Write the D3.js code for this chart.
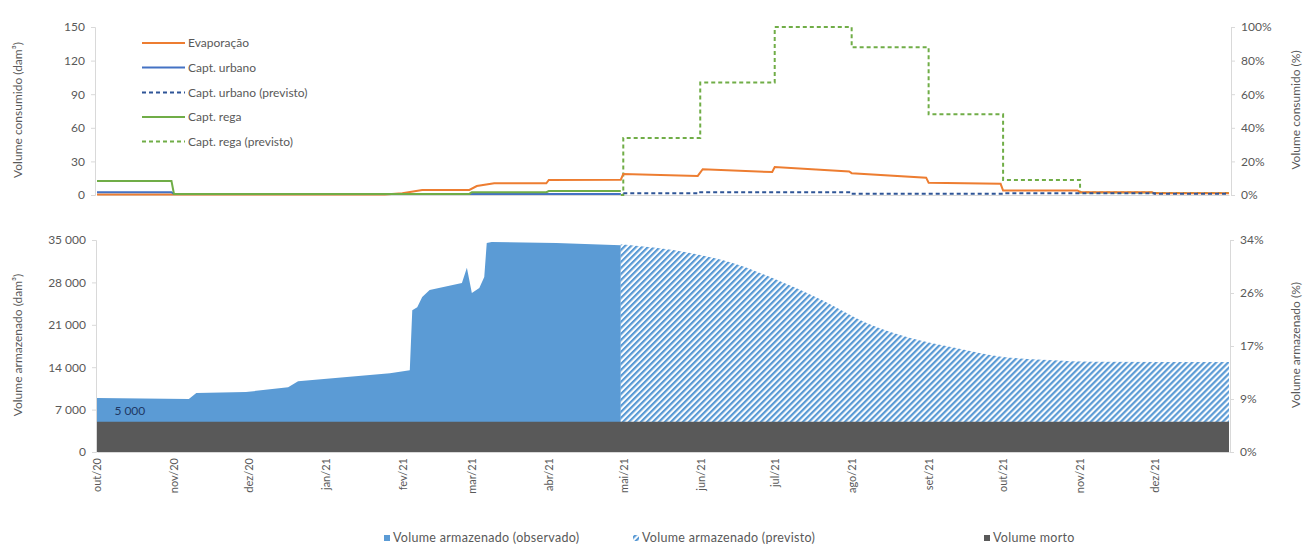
<!DOCTYPE html>
<html><head><meta charset="utf-8">
<script src="https://cdn.jsdelivr.net/npm/d3@7"></script>
<style>
body{margin:0;background:#fff;}
text{font-family:Lato,"Open Sans",sans-serif;fill:#595959;}
</style></head>
<body><svg id="c" width="1304" height="549"></svg>
<script>
// ---------- DATA ----------
const monthLabels = ["out/20","nov/20","dez/20","jan/21","fev/21","mar/21","abr/21","mai/21","jun/21","jul/21","ago/21","set/21","out/21","nov/21","dez/21"];
const monthStarts = ["2020-10-01","2020-11-01","2020-12-01","2021-01-01","2021-02-01","2021-03-01","2021-04-01","2021-05-01","2021-06-01","2021-07-01","2021-08-01","2021-09-01","2021-10-01","2021-11-01","2021-12-01"];
const topTicksLeft = [0,30,60,90,120,150];
const topTicksRight = [0,0.2,0.4,0.6,0.8,1.0];
const botTicksLeft = [0,7000,14000,21000,28000,35000];
const botTicksRight = [0,0.085,0.17,0.255,0.34];

// Volume consumido (dam³)
const evaporacao = [["2020-10-01",0.5],["2021-01-25",0.5],["2021-02-01",1.5],["2021-02-09",4.5],["2021-02-28",4.5],["2021-03-03",8],["2021-03-10",10.5],["2021-03-31",10.5],["2021-04-01",13.4],["2021-04-30",13.6],["2021-05-01",18.7],["2021-05-31",17],["2021-06-02",23],["2021-06-30",20.5],["2021-07-01",25],["2021-07-31",21],["2021-08-01",19.5],["2021-08-31",15.5],["2021-09-01",11],["2021-09-30",10],["2021-10-01",4],["2021-10-31",4],["2021-11-01",2.5],["2021-11-30",2.5],["2021-12-01",1.5],["2021-12-31",1.5]];
const captUrbano = [["2020-10-01",2.5],["2020-10-31",2.5],["2020-11-01",1],["2021-04-30",1]];
const captUrbanoPrev = [["2021-05-01",1.5],["2021-06-01",2.5],["2021-07-01",2.5],["2021-08-01",1.2],["2021-09-01",1.2],["2021-10-01",1.5],["2021-11-01",1.5],["2021-12-01",1.2],["2021-12-31",1.2]];
const captRega = [["2020-10-01",12.5],["2020-10-31",12.5],["2020-11-01",1],["2021-02-28",1],["2021-03-01",2.5],["2021-03-31",2.5],["2021-04-01",3.5],["2021-04-30",3.5]];
// Capt. rega (previsto) in % (secondary axis)
const captRegaPrev = [["2021-04-30",0],["2021-05-01",0.34],["2021-06-01",0.67],["2021-07-01",1.0],["2021-08-01",0.88],["2021-09-01",0.48],["2021-10-01",0.09],["2021-11-01",0.015],["2021-12-01",0.012],["2021-12-31",0.012]];

// Volume armazenado (dam³)
const volObservado = [["2020-10-01",8900],["2020-11-07",8750],["2020-11-10",9750],["2020-11-30",9900],["2020-12-17",10700],["2020-12-21",11700],["2021-01-27",13000],["2021-02-04",13500],["2021-02-05",23400],["2021-02-07",23900],["2021-02-09",25600],["2021-02-12",26750],["2021-02-25",27900],["2021-02-27",30400],["2021-03-01",26250],["2021-03-04",27070],["2021-03-06",28900],["2021-03-07",34500],["2021-03-09",34670],["2021-04-04",34500],["2021-04-30",34150]];
const volPrevisto = [["2021-04-30",34300],["2021-05-28",32850],["2021-06-14",31200],["2021-07-02",28400],["2021-07-20",25100],["2021-08-07",21300],["2021-08-25",18800],["2021-09-12",17170],["2021-10-01",15700],["2021-10-19",15200],["2021-11-06",14900],["2021-12-31",14860]];
const volMorto = [["2020-10-01",5000],["2021-12-31",5000]];
const mortoLabel = "5 000";

// ---------- CHART ----------
const parse = d3.timeParse("%Y-%m-%d");
const svg = d3.select("#c");
const X0 = 96, X1 = 1230;
const x = d3.scaleTime().domain([parse("2020-10-01"), parse("2021-12-31")]).range([X0+1, X1-1]);

const yT = d3.scaleLinear().domain([0,150]).range([195,27]);
const yTR = d3.scaleLinear().domain([0,1]).range([195,27]);
const yB = d3.scaleLinear().domain([0,35000]).range([452,240]);
const yBR = d3.scaleLinear().domain([0,0.34]).range([452,240]);

const defs = svg.append("defs");
const pat = defs.append("pattern").attr("id","hatch").attr("patternUnits","userSpaceOnUse")
  .attr("width",4.24).attr("height",4.24).attr("patternTransform","rotate(45)");
pat.append("rect").attr("width",4.24).attr("height",4.24).attr("fill","#fff");
pat.append("rect").attr("width",2.2).attr("height",4.24).attr("fill","#5B9BD5");

const fmtSp = v => d3.format(",")(v).replace(/,/g," ");
function styleAxis(g){
  g.selectAll("path.domain").attr("stroke","#D9D9D9");
  g.selectAll(".tick line").attr("stroke","#D9D9D9");
  g.selectAll(".tick text").attr("fill","#595959").style("font-size","12px").style("font-family","Lato, sans-serif");
}

// --- bottom panel areas ---
const toPts = arr => arr.map(d => [parse(d[0]), d[1]]);
const areaB = d3.area().x(d=>x(d[0])).y0(yB(0)).y1(d=>yB(d[1]));
svg.append("path").datum(toPts(volObservado)).attr("d",areaB).attr("fill","#5B9BD5");
svg.append("path").datum(toPts(volPrevisto)).attr("d",areaB.curve(d3.curveMonotoneX)).attr("fill","url(#hatch)");
svg.append("path").datum(toPts(volMorto)).attr("d",d3.area().x(d=>x(d[0])).y0(yB(0)).y1(d=>yB(d[1]))).attr("fill","#595959");
svg.append("text").attr("x",x(parse("2020-10-08"))).attr("y",yB(6800)).attr("dy","0.35em")
  .style("font-size","12px").style("fill","#203864").text(mortoLabel);

// bottom axes
const gBL = svg.append("g").attr("transform",`translate(${X0},0)`)
  .call(d3.axisLeft(yB).tickValues(botTicksLeft).tickSize(4).tickPadding(6).tickFormat(fmtSp));
styleAxis(gBL);
const gBR = svg.append("g").attr("transform",`translate(${X1},0)`)
  .call(d3.axisRight(yBR).tickValues(botTicksRight).tickSize(4).tickPadding(6).tickFormat(d3.format(".0%")));
styleAxis(gBR);
const gBX = svg.append("g").attr("transform",`translate(0,452)`)
  .call(d3.axisBottom(x).tickValues(monthStarts.map(parse)).tickSize(0).tickFormat((d,i)=>monthLabels[i]));
styleAxis(gBX);
gBX.selectAll(".tick text").attr("transform","rotate(-90)").attr("text-anchor","end")
  .attr("x",-6).attr("y",0).attr("dy","0.35em").style("font-size","11px");

// --- top panel ---
const gTX = svg.append("g").attr("transform",`translate(0,195)`)
  .call(d3.axisBottom(x).tickValues([]).tickSize(0));
styleAxis(gTX);
const gTL = svg.append("g").attr("transform",`translate(${X0-1},0)`)
  .call(d3.axisLeft(yT).tickValues(topTicksLeft).tickSize(4).tickPadding(6));
styleAxis(gTL);
const gTR = svg.append("g").attr("transform",`translate(${X1+1},0)`)
  .call(d3.axisRight(yTR).tickValues(topTicksRight).tickSize(4).tickPadding(6).tickFormat(d3.format(".0%")));
styleAxis(gTR);

const lineL = d3.line().x(d=>x(d[0])).y(d=>yT(d[1]));
const lineLStep = d3.line().x(d=>x(d[0])).y(d=>yT(d[1])).curve(d3.curveStepAfter);
const lineRStep = d3.line().x(d=>x(d[0])).y(d=>yTR(d[1])).curve(d3.curveStepAfter);

const series = [
  {name:"Evaporação", color:"#ED7D31", dash:null, w:2},
  {name:"Capt. urbano", color:"#4472C4", dash:null, w:2},
  {name:"Capt. urbano (previsto)", color:"#2F5597", dash:"4,3", w:2},
  {name:"Capt. rega", color:"#70AD47", dash:null, w:2},
  {name:"Capt. rega (previsto)", color:"#70AD47", dash:"4,3", w:2}
];
svg.append("path").datum(toPts(captRegaPrev)).attr("d",lineRStep).attr("fill","none")
  .attr("stroke",series[4].color).attr("stroke-width",2).attr("stroke-dasharray",series[4].dash);
svg.append("path").datum(toPts(evaporacao)).attr("d",lineL).attr("fill","none")
  .attr("stroke",series[0].color).attr("stroke-width",2);
svg.append("path").datum(toPts(captUrbano)).attr("d",lineL).attr("fill","none")
  .attr("stroke",series[1].color).attr("stroke-width",2);
svg.append("path").datum(toPts(captUrbanoPrev)).attr("d",lineLStep).attr("fill","none")
  .attr("stroke",series[2].color).attr("stroke-width",2).attr("stroke-dasharray",series[2].dash);
svg.append("path").datum(toPts(captRega)).attr("d",lineL).attr("fill","none")
  .attr("stroke",series[3].color).attr("stroke-width",2);

// top legend
const lg = svg.append("g");
const legY = [43,67.5,92.5,117,141.5];
series.forEach((s,i)=>{
  lg.append("line").attr("x1",142).attr("x2",185).attr("y1",legY[i]).attr("y2",legY[i])
    .attr("stroke",s.color).attr("stroke-width",2).attr("stroke-dasharray",s.dash);
  lg.append("text").attr("x",188).attr("y",legY[i]).attr("dy","0.35em").style("font-size","12px").text(s.name);
});

// axis titles
function vTitle(txt,xp,yp){
  svg.append("text").attr("transform",`translate(${xp},${yp}) rotate(-90)`).attr("text-anchor","middle")
    .attr("dy","0.35em").style("font-size","12px").text(txt);
}
vTitle("Volume consumido (dam³)",18,110);
vTitle("Volume consumido (%)",1296,110);
vTitle("Volume armazenado (dam³)",18,345);
vTitle("Volume armazenado (%)",1296,345);

// bottom legend
const bl = svg.append("g");
const bItems = [
  {name:"Volume armazenado (observado)", fill:"#5B9BD5", x:384},
  {name:"Volume armazenado (previsto)", fill:"url(#hatch)", x:633},
  {name:"Volume morto", fill:"#595959", x:984}
];
bItems.forEach(b=>{
  bl.append("rect").attr("x",b.x).attr("y",535).attr("width",6).attr("height",6).attr("fill",b.fill);
  bl.append("text").attr("x",b.x+9).attr("y",538).attr("dy","0.35em").style("font-size","12.5px")
    .style("letter-spacing","0.3px").text(b.name);
});
</script></body></html>
